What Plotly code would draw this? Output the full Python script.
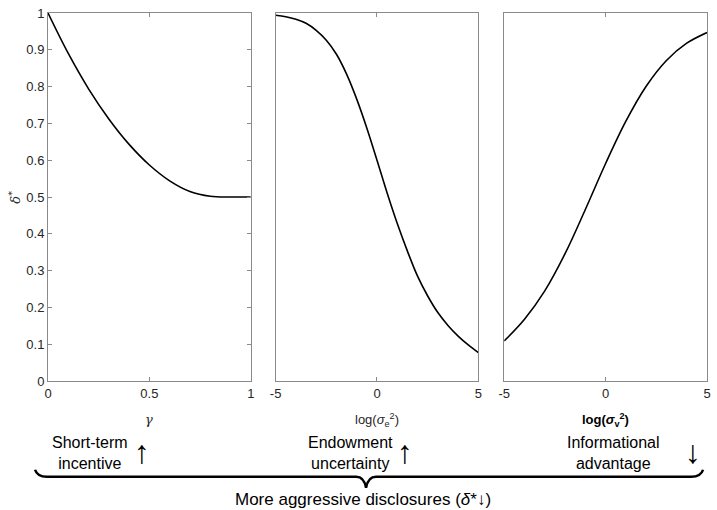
import plotly.graph_objects as go

# ---- data ----
gamma = [0.0, 0.1, 0.2, 0.3, 0.4, 0.5, 0.6, 0.7, 0.8, 0.9, 1.0]
delta_gamma = [1.0, 0.890, 0.794, 0.712, 0.643, 0.587, 0.544, 0.515, 0.502, 0.500, 0.500]

log_sig_e = [-5, -4.5, -4, -3.5, -3, -2.5, -2, -1.5, -1, -0.5, 0, 0.5, 1, 1.5, 2, 2.5, 3, 3.5, 4, 4.5, 5]
delta_e = [0.994, 0.990, 0.983, 0.972, 0.953, 0.926, 0.888, 0.834, 0.766, 0.687, 0.600, 0.511,
           0.428, 0.353, 0.285, 0.231, 0.186, 0.151, 0.122, 0.098, 0.077]

log_sig_v = [-5, -4, -3, -2, -1, 0, 1, 2, 3, 4, 5]
delta_v = [0.109, 0.168, 0.245, 0.346, 0.466, 0.591, 0.706, 0.801, 0.871, 0.918, 0.947]

y_ticks = [0, 0.1, 0.2, 0.3, 0.4, 0.5, 0.6, 0.7, 0.8, 0.9, 1]
y_labels = ["0", "0.1", "0.2", "0.3", "0.4", "0.5", "0.6", "0.7", "0.8", "0.9", "1"]
x1_ticks = [0, 0.5, 1]
x1_labels = ["0", "0.5", "1"]
x23_ticks = [-5, 0, 5]
x23_labels = ["-5", "0", "5"]

# ---- layout geometry ----
W, H = 717, 510
ML, MR, MT, MB = 48, 6, 12, 129
PW, PH = W - ML - MR, H - MT - MB


def px(x):
    return (x - ML) / PW


def py(y):
    return (H - MB - y) / PH


AX = "#8a8a8a"
TXT = "#262626"
TICKFONT = dict(family="Liberation Sans, Arial, sans-serif", size=13, color=TXT)

fig = go.Figure()
line = dict(color="black", width=1.6, shape="spline", smoothing=1.0)
fig.add_trace(go.Scatter(x=gamma, y=delta_gamma, mode="lines", line=line, xaxis="x", yaxis="y", showlegend=False))
fig.add_trace(go.Scatter(x=log_sig_e, y=delta_e, mode="lines", line=line, xaxis="x2", yaxis="y2", showlegend=False))
fig.add_trace(go.Scatter(x=log_sig_v, y=delta_v, mode="lines", line=line, xaxis="x3", yaxis="y3", showlegend=False))

common = dict(showline=True, linecolor=AX, linewidth=1, mirror="ticks", ticks="inside",
              ticklen=4, tickcolor=AX, showgrid=False, zeroline=False, tickfont=TICKFONT)
noy = dict(domain=[0, 1], range=[0, 1], showline=True, linecolor=AX, linewidth=1, mirror=True,
           showticklabels=False, ticks="", showgrid=False, zeroline=False)

doms = [(48, 252), (277, 481), (507, 711)]
fig.update_layout(
    width=W, height=H, margin=dict(l=ML, r=MR, t=MT, b=MB),
    paper_bgcolor="white", plot_bgcolor="white",
    xaxis=dict(domain=[px(doms[0][0]), px(doms[0][1])], range=[0, 1], tickvals=x1_ticks,
               ticktext=x1_labels, anchor="y", **common),
    yaxis=dict(domain=[0, 1], range=[0, 1], tickvals=y_ticks, ticktext=y_labels, anchor="x", **common),
    xaxis2=dict(domain=[px(doms[1][0]), px(doms[1][1])], range=[-5, 5], tickvals=x23_ticks,
                ticktext=x23_labels, anchor="y2", **common),
    yaxis2=dict(anchor="x2", **noy),
    xaxis3=dict(domain=[px(doms[2][0]), px(doms[2][1])], range=[-5, 5], tickvals=x23_ticks,
                ticktext=x23_labels, anchor="y3", **common),
    yaxis3=dict(anchor="x3", **noy),
)


def note(x, y, text, font, **kw):
    d = dict(x=px(x), y=py(y), xref="paper", yref="paper", text=text, showarrow=False,
             xanchor="center", yanchor="middle", font=font)
    d.update(kw)
    return d


ann = []
# axis titles
ann.append(note(15, 197, "<i>δ</i><sup>*</sup>", dict(family="DejaVu Serif, serif", size=13, color=TXT),
                textangle=-90))
ann.append(note(150, 420, "<i>γ</i>", dict(family="DejaVu Serif, serif", size=13, color=TXT)))
ann.append(note(379, 420, "log(<i>σ</i><sub>e</sub><sup>2</sup>)",
                dict(family="Liberation Sans, Arial, sans-serif", size=13, color=TXT)))
ann.append(note(609, 420, "<b>log(<i>σ</i><sub>v</sub><sup>2</sup>)</b>",
                dict(family="Liberation Sans, Arial, sans-serif", size=13, color="black")))

BF = dict(family="Liberation Sans, Arial, sans-serif", size=16, color="black")
MF = dict(family="Liberation Sans, Arial, sans-serif", size=17, color="black")
AF = dict(family="Liberation Sans, Arial, sans-serif", size=32, color="black")
groups = [
    ("Short-term", "incentive", "↑", 90, 143),
    ("Endowment", "uncertainty", "↑", 352, 407),
    ("Informational", "advantage", "↓", 617, 697),
]
for l1, l2, arr, cx, axp in groups:
    ann.append(note(cx, 453, f"{l1}<br>{l2}", BF))
    ann.append(note(axp, 452, arr, AF))

ann.append(note(365, 500, "More aggressive disclosures (<i>δ</i>*↓)", MF))
fig.update_layout(annotations=ann)

# underbrace (decoration, in pixel-derived paper coordinates)
L, R, C = 35, 707, 368
yl, yt, ye = 477, 488, 470
path = (f"M {px(L)},{py(ye)} Q {px(L+2)},{py(yl)} {px(L+12)},{py(yl)} "
        f"L {px(C-10)},{py(yl)} Q {px(C-2)},{py(yl)} {px(C)},{py(yt)} "
        f"Q {px(C+2)},{py(yl)} {px(C+10)},{py(yl)} "
        f"L {px(R-12)},{py(yl)} Q {px(R-2)},{py(yl)} {px(R)},{py(ye)}")
fig.add_shape(type="path", path=path, xref="paper", yref="paper", line=dict(color="black", width=2.5))

fig.write_html("out.html")
